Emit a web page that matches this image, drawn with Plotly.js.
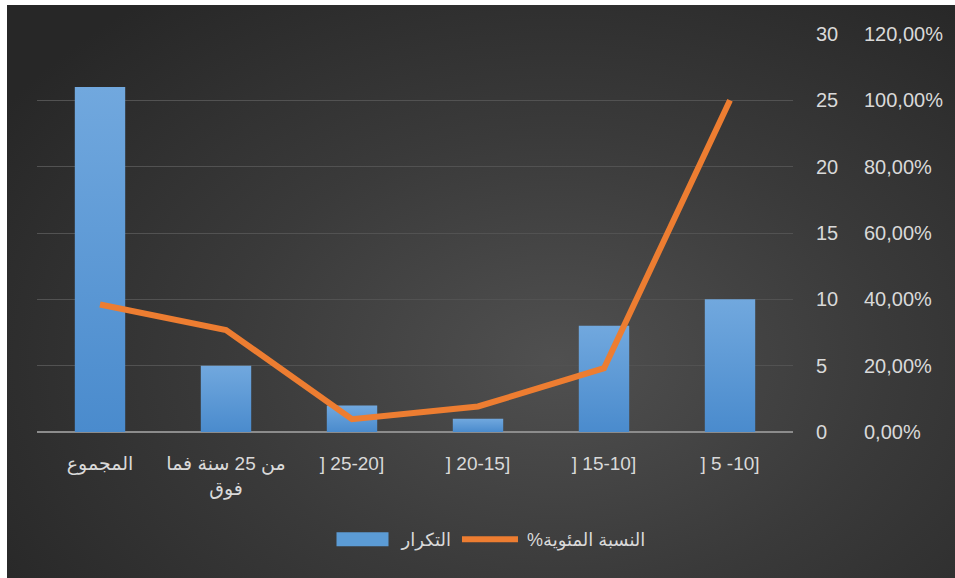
<!DOCTYPE html>
<html>
<head>
<meta charset="utf-8">
<script src="https://cdn.plot.ly/plotly-3.0.1.min.js"></script>
<style>
  html, body { margin: 0; padding: 0; background: #ffffff; width: 955px; height: 578px; overflow: hidden; }
  #chart {
    position: absolute; left: 7px; top: 5px; width: 948px; height: 573px;
    background: radial-gradient(ellipse 70% 80% at 58% 62%, #505050 0%, #3a3a3a 50%, #272727 100%);
  }
</style>
</head>
<body>
<div id="chart"></div>
<script>
// Categories (left to right as displayed in the reference; axis is reversed)
const categories = ["] 5 -10]", "] 15-10]", "] 20-15]", "] 25-20]", "من 25 سنة فما<br>فوق", "المجموع"];
// Frequency (التكرار)
const frequency = [10, 8, 1, 2, 5, 26];
// Percentage (النسبة المئوية%) as fractions
const percentage = [1.0, 0.1923, 0.0769, 0.0385, 0.3077, 0.3846];
const barName = "التكرار";
const lineName = "%النسبة المئوية";

const textColor = "#d9d9d9";
const fam = "Liberation Sans, Arial, DejaVu Sans, sans-serif";

const traces = [
  {
    type: "bar",
    x: categories,
    y: frequency,
    name: barName,
    marker: { color: "#5b9bd5" },
    width: 0.4,
    yaxis: "y"
  },
  {
    type: "scatter",
    mode: "lines",
    x: categories,
    y: percentage,
    name: lineName,
    line: { color: "#ed7d31", width: 6 },
    yaxis: "y2"
  }
];

const layout = {
  width: 948,
  height: 573,
  paper_bgcolor: "rgba(0,0,0,0)",
  plot_bgcolor: "rgba(0,0,0,0)",
  separators: ", ",
  font: { family: fam, size: 18, color: textColor },
  margin: { l: 30, r: 10, t: 29, b: 146 },
  showlegend: true,
  legend: {
    orientation: "h",
    x: 0.5, xanchor: "center",
    y: -0.27, yanchor: "middle",
    itemwidth: 60,
    font: { family: fam, size: 18, color: textColor },
    bgcolor: "rgba(0,0,0,0)"
  },
  xaxis: {
    domain: [0, 0.8326],
    type: "category",
    autorange: "reversed",
    showgrid: false,
    showline: false,
    zeroline: false,
    ticks: "",
    tickfont: { family: fam, size: 19, color: textColor },
    ticklabelstandoff: 18
  },
  yaxis: {
    side: "right",
    range: [0, 30],
    dtick: 5,
    showgrid: true,
    gridcolor: "#525252",
    gridwidth: 1,
    zeroline: true,
    zerolinecolor: "#8c8c8c",
    zerolinewidth: 2,
    showline: false,
    ticks: "",
    ticklabelstandoff: 22,
    tickfont: { family: fam, size: 20, color: textColor }
  },
  yaxis2: {
    overlaying: "y",
    side: "right",
    anchor: "free",
    position: 0.9097,
    range: [0, 1.2],
    dtick: 0.2,
    tickformat: ".2%",
    showgrid: false,
    zeroline: false,
    showline: false,
    ticks: "",
    tickfont: { family: fam, size: 20, color: textColor }
  },
  bargap: 0.6
};

Plotly.newPlot("chart", traces, layout, { displayModeBar: false, staticPlot: true }).then(function (gd) {
  const svgNS = "http://www.w3.org/2000/svg";
  const svg = gd.querySelector("svg.main-svg");
  let defs = svg.querySelector("defs");
  if (!defs) { defs = document.createElementNS(svgNS, "defs"); svg.insertBefore(defs, svg.firstChild); }
  const grad = document.createElementNS(svgNS, "linearGradient");
  grad.setAttribute("id", "barGrad");
  grad.setAttribute("x1", "0"); grad.setAttribute("y1", "0");
  grad.setAttribute("x2", "0"); grad.setAttribute("y2", "1");
  [["0", "#71a8de"], ["1", "#4a8bcd"]].forEach(function (s) {
    const st = document.createElementNS(svgNS, "stop");
    st.setAttribute("offset", s[0]);
    st.setAttribute("stop-color", s[1]);
    grad.appendChild(st);
  });
  defs.appendChild(grad);
  gd.querySelectorAll(".barlayer .point path").forEach(function (p) {
    p.style.fill = "url(#barGrad)";
  });
  // widen legend symbols to look like the reference's legend keys
  gd.querySelectorAll(".legend .legendpoints path").forEach(function (p) {
    p.setAttribute("d", "M0,-7h52v14h-52Z");
    p.setAttribute("transform", "translate(5,0)");
  });
  gd.querySelectorAll(".legend .legendlines path").forEach(function (p) {
    p.setAttribute("d", "M0,0h56");
    p.setAttribute("transform", "translate(5,0)");
  });
});
</script>
</body>
</html>
